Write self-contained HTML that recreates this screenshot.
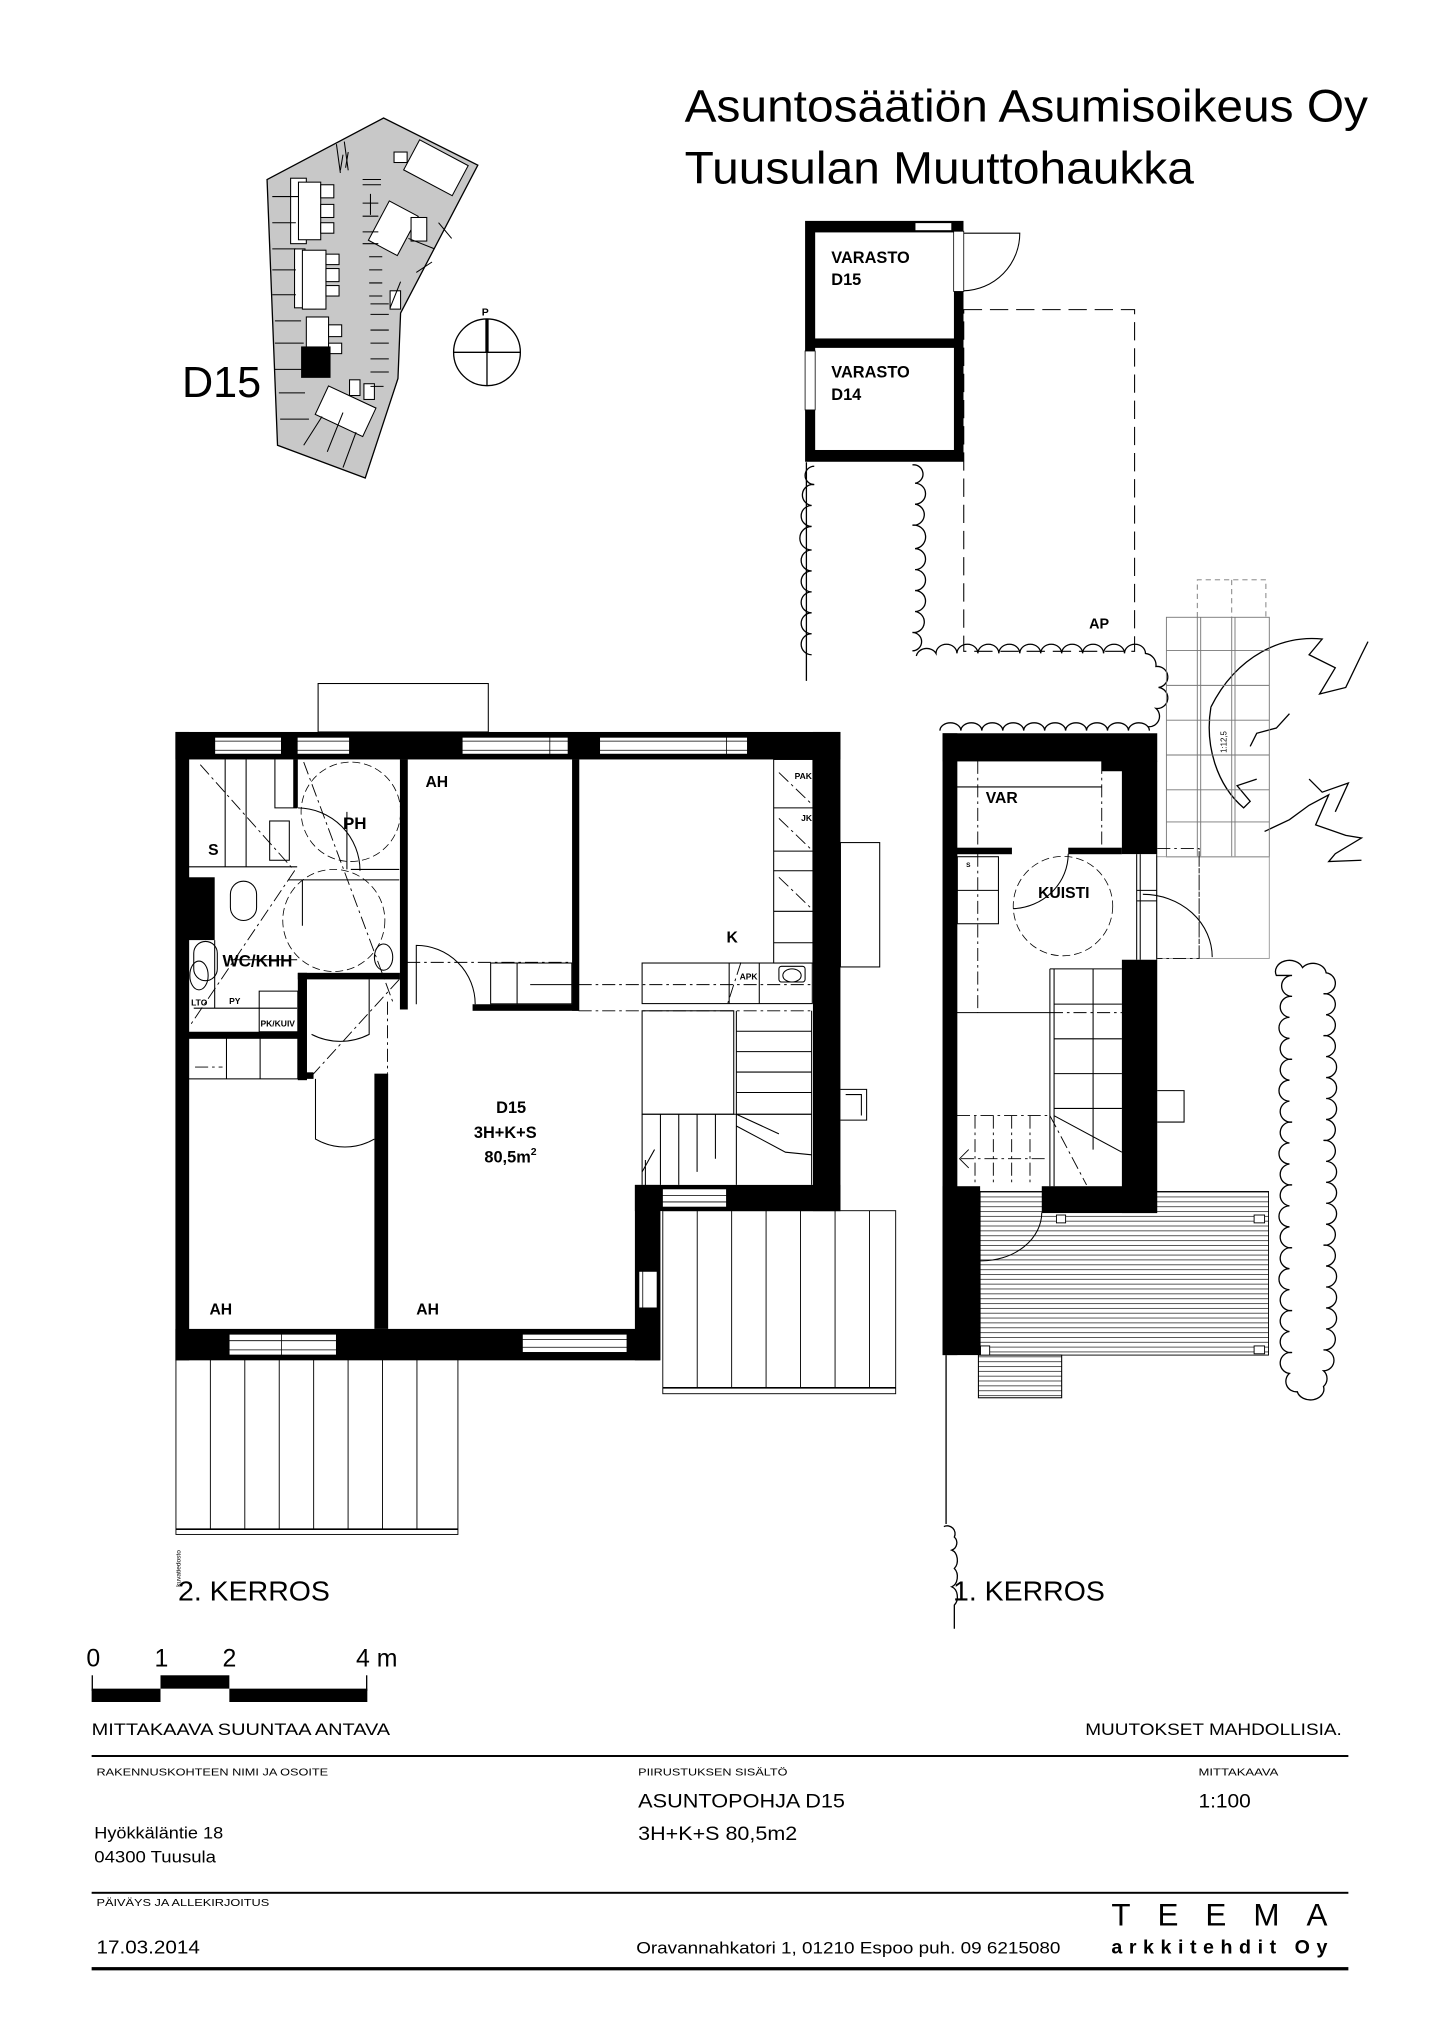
<!DOCTYPE html>
<html><head><meta charset="utf-8"><style>
html,body{margin:0;padding:0;background:#fff}
svg{display:block}
text{font-family:"Liberation Sans",Arial,sans-serif;fill:#000}
</style></head><body>
<svg width="1440" height="2036" viewBox="0 0 1100 1555" xmlns="http://www.w3.org/2000/svg">
<defs>
<pattern id="deckH" width="10" height="3.7" patternUnits="userSpaceOnUse"><rect width="10" height="3.7" fill="#fff"/><line x1="0" y1="0.3" x2="10" y2="0.3" stroke="#000" stroke-width="0.5"/></pattern>
</defs>
<rect width="1100" height="1555" fill="#fff"/>

<!-- Title -->
<text x="523" y="92.6" font-size="34.5" textLength="522" lengthAdjust="spacingAndGlyphs">Asuntosäätiön Asumisoikeus Oy</text>
<text x="523" y="140" font-size="34.5" textLength="389" lengthAdjust="spacingAndGlyphs">Tuusulan Muuttohaukka</text>

<!-- Site plan -->
<g stroke="#000" stroke-width="1">
<polygon points="204,137 293,90 365,126 306,239 304,289 279,365 212,340" fill="#c8c8c8"/>
<g fill="#fff" stroke-width="0.8">
<rect x="222" y="136" width="12" height="50"/>
<rect x="228" y="139" width="17" height="44"/><rect x="245" y="141" width="10" height="10"/><rect x="245" y="156" width="10" height="10"/><rect x="245" y="170" width="10" height="8"/>
<rect x="225" y="190" width="8" height="45"/>
<rect x="231" y="191" width="18" height="45"/><rect x="249" y="194" width="10" height="8"/><rect x="249" y="205" width="10" height="10"/><rect x="249" y="218" width="10" height="8"/>
<rect x="234" y="242" width="17" height="24"/><rect x="251" y="248" width="10" height="9"/><rect x="251" y="262" width="10" height="8"/>
<rect x="312" y="115" width="42" height="26" transform="rotate(28 333 128)"/>
<rect x="301" y="116" width="10" height="8"/>
<rect x="288" y="157" width="25" height="34" transform="rotate(28 300 174)"/>
<rect x="314" y="166" width="12" height="18"/>
<rect x="298" y="222" width="8" height="14"/>
<rect x="244" y="302" width="40" height="24" transform="rotate(25 264 314)"/>
<rect x="267" y="290" width="8" height="12"/><rect x="278" y="293" width="8" height="12"/>
</g>
<g stroke-width="0.8" fill="none">
<path d="M208,150h20M208,170h18M208,190h18M208,206h18M208,225h18M210,245h20M210,262h22M210,282h22M213,300h20M214,320h22"/>
<path d="M262,118L260,130M266,116L264,128"/>
<path d="M277,137h14M277,141h14M283,148v16M277,155h12M277,165h12M277,177h12M277,186h12M282,196h10M282,206h10M282,216h10M282,226h10"/>
<path d="M283,232h14M283,240h14M283,252h14M283,262h14M283,274h14M283,284h14M283,295h10"/>
<path d="M298,235l8,-20M312,182l20,8M335,170l10,12M330,200l-12,8"/>
<path d="M250,345L262,315M262,357L272,330M232,340L246,318"/>
<path d="M257,110l3,22M263,108l3,22"/>
</g>
<rect x="230.5" y="265" width="21.5" height="23" fill="#000"/>
<circle cx="372" cy="269" r="25.5" fill="#fff"/>
<line x1="346.5" y1="269" x2="397.5" y2="269"/>
<line x1="372" y1="269" x2="372" y2="294.5"/>
<line x1="372" y1="243.5" x2="372" y2="269" stroke-width="2.5"/>
</g>
<text x="368" y="241" font-size="8" font-weight="bold">P</text>
<text x="139" y="303" font-size="33">D15</text>

<!-- Storage -->
<g>
<rect x="615" y="168.6" width="121" height="184" fill="#000"/>
<rect x="622.7" y="177.4" width="106" height="81" fill="#fff"/>
<rect x="622.7" y="265.6" width="106" height="78" fill="#fff"/>
<rect x="728.5" y="176.5" width="7.7" height="46" fill="#fff" stroke="#000" stroke-width="0.6"/>
<rect x="615" y="268" width="7.7" height="45" fill="#fff" stroke="#000" stroke-width="0.6"/>
<rect x="699" y="170" width="28" height="6" fill="#fff" stroke="#000" stroke-width="0.6"/>
<path d="M736,178 H779 A44,44 0 0 1 736,222" fill="none" stroke="#000" stroke-width="0.8"/>
</g>
<g font-size="12.5" font-weight="bold">
<text x="635" y="200.7">VARASTO</text><text x="635" y="217.7">D15</text>
<text x="635" y="288.4">VARASTO</text><text x="635" y="305.4">D14</text>
</g>
<rect x="736.2" y="236.4" width="130.5" height="261" fill="none" stroke="#000" stroke-width="0.8" stroke-dasharray="14,6"/>
<text x="832" y="480" font-size="11" font-weight="bold">AP</text>

<!-- Hedges -->
<g fill="none" stroke="#000" stroke-width="1">
<path d="M616,353 V520"/>
<path d="M622,356 a6,6 0 0 0 0,14 a8,8 0 0 0 -2,16 a8,8 0 0 0 0,16 a9,9 0 0 0 0,18 a8,8 0 0 0 0,16 a8,8 0 0 0 0,16 a8,8 0 0 0 0,16 a8,8 0 0 0 0,16 a8,8 0 0 0 0,16"/>
<path d="M697,355 a6,6 0 0 1 2,14 a8,8 0 0 1 0,16 a8,8 0 0 1 -2,16 a9,9 0 0 1 2,18 a8,8 0 0 1 0,16 a8,8 0 0 1 0,16 a8,8 0 0 1 0,16 a8,8 0 0 1 -2,16 a7,7 0 0 1 0,14"/>
<path d="M700,501 a8,7 0 0 1 15,-2 a8,7 0 0 1 16,0 a8,7 0 0 1 16,0 a8,7 0 0 1 16,0 a8,7 0 0 1 16,0 a8,7 0 0 1 16,0 a8,7 0 0 1 16,0 a8,7 0 0 1 16,0 a8,7 0 0 1 16,0 a8,7 0 0 1 16,0 a8,7 0 0 1 16,0 a9,9 0 0 1 8,10 a8,8 0 0 1 2,16 a8,8 0 0 1 -2,16 a8,8 0 0 1 -6,14"/>
<path d="M718,558 a8,6 0 0 1 16,0 a8,6 0 0 1 16,0 a8,6 0 0 1 16,0 a8,6 0 0 1 16,0 a8,6 0 0 1 16,0 a8,6 0 0 1 16,0 a8,6 0 0 1 16,0 a8,6 0 0 1 16,0 a8,6 0 0 1 16,0 a8,6 0 0 1 16,0"/>
<path d="M975,745 a10,8 0 0 1 20,-6 a10,8 0 0 1 18,4 a8,8 0 0 1 -2,16 a8,8 0 0 1 2,16 a8,8 0 0 1 -2,16 a8,8 0 0 1 2,16 a8,8 0 0 1 0,16 a8,8 0 0 1 0,16 a8,8 0 0 1 0,16 a8,8 0 0 1 -2,16 a8,8 0 0 1 2,16 a8,8 0 0 1 0,16 a8,8 0 0 1 0,16 a8,8 0 0 1 0,16 a8,8 0 0 1 -2,16 a8,8 0 0 1 2,16 a8,8 0 0 1 0,16 a8,8 0 0 1 0,16 a8,8 0 0 1 0,16 a8,8 0 0 1 -2,16 a8,8 0 0 1 0,16 a8,8 0 0 1 0,12 a10,8 0 0 1 -20,4 a8,8 0 0 1 -6,-14 a8,8 0 0 1 2,-16 a8,8 0 0 1 -2,-16 a8,8 0 0 1 2,-16 a8,8 0 0 1 -2,-16 a8,8 0 0 1 0,-16 a8,8 0 0 1 2,-16 a8,8 0 0 1 -2,-16 a8,8 0 0 1 0,-16 a8,8 0 0 1 2,-16 a8,8 0 0 1 -2,-16 a8,8 0 0 1 0,-16 a8,8 0 0 1 2,-16 a8,8 0 0 1 -2,-16 a8,8 0 0 1 0,-16 a8,8 0 0 1 2,-16 a8,8 0 0 1 -2,-16 a8,8 0 0 1 0,-16 a8,8 0 0 1 2,-16 a8,8 0 0 1 0,-16 z"/>
<path d="M925,540 C945,500 980,485 1010,488 L1000,500 L1020,510 L1008,530 L1028,525 L1040,500 L1045,490"/>
<path d="M925,540 C920,570 930,600 950,617 L955,612 L945,600 L960,595"/>
<path d="M955,570 L960,560 L975,556 L985,545"/>
<path d="M966,635 L985,626 L1000,615 L1015,607 L1005,630 L1028,638 L1040,640 L1020,652 L1015,658 L1040,657"/>
<path d="M1000,595 L1010,605 L1030,598 L1020,620"/>
<path d="M722.7,1035 V1164"/>
<path d="M721,1166 a6,6 0 0 1 8,8 a6,6 0 0 1 -2,10 a6,8 0 0 1 2,14 a6,8 0 0 1 -2,14 a6,8 0 0 1 2,14 l0,18"/>
</g>

<!-- Ramp grid -->
<g fill="none" stroke="#777" stroke-width="0.7">
<rect x="891" y="471.4" width="78.6" height="183"/>
<path d="M891,496.8h78.6M891,523.4h78.6M891,550h78.6M891,576.6h78.6M891,603.2h78.6M891,627.7h78.6"/>
<path d="M914.6,471.4V654M917.2,471.4V654M940.9,471.4V654M943.4,471.4V654"/>
<path d="M914.6,471.4V442.8H967V471.4M940.9,442.8V471.4" stroke-dasharray="4,3"/>
<rect x="883.6" y="654.3" width="86" height="77.7" stroke="#999"/>
</g>
<text x="0" y="0" font-size="6" transform="translate(937,575) rotate(-90)">1:12,5</text>

<!-- ===== 2. KERROS ===== -->
<rect x="243" y="522" width="130" height="37" fill="#fff" stroke="#000" stroke-width="0.8"/>
<g fill="none" stroke="#000" stroke-width="0.7">
<rect x="134.4" y="1038" width="215.4" height="134"/>
<line x1="134.4" y1="1168" x2="349.8" y2="1168" stroke-width="1.2"/>
<path d="M160.7,1038V1168M187,1038V1168M213.3,1038V1168M239.6,1038V1168M265.9,1038V1168M292.2,1038V1168M318.5,1038V1168"/>
<rect x="506.3" y="924.7" width="177.9" height="139.8"/>
<line x1="506.3" y1="1060" x2="684.2" y2="1060" stroke-width="1.2"/>
<path d="M532.6,924.7V1060M558.9,924.7V1060M585.2,924.7V1060M611.5,924.7V1060M637.9,924.7V1060M664.2,924.7V1060"/>
</g>

<g fill="#000">
<rect x="134" y="559" width="508" height="21"/>
<rect x="134" y="559" width="10.5" height="480"/>
<rect x="621" y="559" width="21" height="366"/>
<rect x="485" y="905" width="157" height="20"/>
<rect x="485" y="905" width="19.5" height="134"/>
<rect x="134" y="1015" width="370" height="24"/>
<rect x="305.5" y="580" width="6" height="191"/>
<rect x="437" y="580" width="5.5" height="192"/>
<rect x="361" y="767" width="81" height="5"/>
<rect x="144" y="670" width="20" height="48"/>
<rect x="227.5" y="743" width="78" height="5"/>
<rect x="227.5" y="743" width="7" height="82"/>
<rect x="144" y="788" width="84" height="5"/>
<rect x="286" y="820" width="10.5" height="195"/>
<rect x="224" y="580" width="3.5" height="37"/>
<rect x="227.5" y="819" width="12" height="5"/>
</g>
<g fill="#fff" stroke="#000" stroke-width="0.7">
<rect x="164" y="563" width="51" height="13"/><rect x="227" y="563" width="40" height="13"/>
<rect x="353" y="563" width="81" height="13"/><rect x="458" y="563" width="113" height="13"/>
<rect x="175" y="1019" width="82" height="16"/><rect x="399" y="1019" width="80" height="14"/>
<rect x="488" y="971" width="14" height="28"/><rect x="506" y="908" width="49" height="14"/>
</g>
<g stroke="#000" stroke-width="0.6">
<path d="M164,566h51M164,573h51M227,566h40M227,573h40M353,566h81M353,573h81M458,566h113M458,573h113M420,563v13M555,563v13"/>
<path d="M175,1024h82M175,1031h82M399,1023h80M399,1029h80M215,1019v16M491,971v28M506,913h49M506,918h49"/>
</g>
<g fill="none" stroke="#000" stroke-width="0.8">
<rect x="642" y="643.5" width="30" height="95"/>
<path d="M642,832H662V855.5H642M646,836H658V852"/>
</g>
<g fill="none" stroke="#000" stroke-width="0.8">
<path d="M144,662H227M172,580V662M188,580V662M210,580V617H227"/>
<rect x="206" y="627" width="15" height="30"/>
<path d="M176,733 H227M148,770H227M164,718V770"/>
<rect x="148" y="719" width="18" height="30" rx="9"/>
<rect x="176" y="673" width="20" height="30" rx="10"/>
<path d="M236,672H305M265,620V664M268,664H305M220,672H236M231,672V707"/>
<rect x="144" y="793" width="83.5" height="31"/>
<path d="M173,793V824M198.7,793V824M198,757H227.5V788H198Z"/>
<rect x="591" y="580" width="30" height="155.5"/>
<path d="M591,617H621M591,650H621M591,665H621M591,696H621M591,720H621"/>
<rect x="490.5" y="735.5" width="130" height="31"/>
<path d="M557,735.5V766.7M580,735.5V766.7"/>
<rect x="374.8" y="735.5" width="62" height="31.2"/>
<path d="M395,735.5V766.7M405,752H437"/>
<rect x="490.5" y="772" width="70" height="79"/>
<path d="M562.5,772V905M620,772V905M562.5,787.6H620M562.5,803.2H620M562.5,818.8H620M562.5,834.4H620M562.5,851H620"/>
<path d="M490.5,851H620M490.5,851V905M504.5,851V905M518.5,851V905M532.5,851V895M546.5,851V885M562.5,860L600,880L620,882M562.5,851L595,866"/>
<path d="M490.5,895L500,878M493,906V886"/>
<ellipse cx="152" cy="745" rx="7" ry="11"/>
<ellipse cx="293" cy="731" rx="7" ry="10"/>
<rect x="595" y="738" width="20" height="12" rx="2"/>
<ellipse cx="605" cy="745" rx="7" ry="5"/>
</g>
<g fill="none" stroke="#000" stroke-width="0.6" stroke-dasharray="6,3">
<circle cx="268" cy="620" r="38"/>
<circle cx="255" cy="703" r="39"/>
</g>
<g fill="none" stroke="#000" stroke-width="0.7" stroke-dasharray="10,3,2,3">
<path d="M153,584L225,665M225,665L146,782"/>
<path d="M232,582L300,765"/>
<path d="M311,735H437M442,752H620M442,772H620"/>
<path d="M305,748L236,824"/>
<path d="M296,765V820"/>
<path d="M595,590L621,615M595,625L621,650M595,670L621,695M566,735L556,766"/>
<path d="M149,815H170"/>
</g>
<g fill="none" stroke="#000" stroke-width="0.8">
<path d="M227.5,617 A48,48 0 0 1 275,665"/>
<path d="M318,767 V722 A45,45 0 0 1 363,767"/>
<path d="M282,748 V790 A48,48 0 0 1 238,790"/>
<path d="M241,824 V870 A45,45 0 0 0 286,870"/>
</g>
<g font-size="12" font-weight="bold">
<text x="325" y="601">AH</text>
<text x="262" y="633" font-size="13">PH</text>
<text x="159" y="653">S</text>
<text x="170" y="738" font-size="13">WC/KHH</text>
<text x="555" y="720">K</text>
<text x="379" y="850" font-size="12.5">D15</text>
<text x="362" y="869" font-size="12.5">3H+K+S</text>
<text x="370" y="888" font-size="12.5">80,5m<tspan font-size="8" dy="-6">2</tspan></text>
<text x="160" y="1004">AH</text>
<text x="318" y="1004">AH</text>
</g>
<g font-size="6.5" font-weight="bold">
<text x="607" y="595">PAK</text><text x="612" y="627">JK</text><text x="565" y="748">APK</text>
<text x="146" y="768">LTO</text><text x="175" y="767">PY</text><text x="199" y="784">PK/KUIV</text>
</g>
<text font-size="5" transform="translate(138,1212) rotate(-90)">kuvatiedosto</text>
<text x="136" y="1222.6" font-size="21" textLength="116" lengthAdjust="spacingAndGlyphs">2. KERROS</text>

<!-- ===== 1. KERROS ===== -->
<rect x="748.7" y="910" width="220.3" height="125" fill="url(#deckH)" stroke="#000" stroke-width="0.7"/>
<rect x="747.4" y="1035" width="63.6" height="32.6" fill="url(#deckH)" stroke="#000" stroke-width="0.8"/>
<g fill="#fff" stroke="#000" stroke-width="0.7">
<rect x="807" y="928" width="7" height="6"/><rect x="958" y="928" width="8" height="6"/>
<rect x="749" y="1028" width="7" height="7"/><rect x="958" y="1028" width="8" height="6"/>
</g>
<g fill="#000">
<rect x="720" y="560" width="164" height="21.5"/>
<rect x="720" y="560" width="11.3" height="475"/>
<rect x="720" y="906" width="28.7" height="129"/>
<rect x="857" y="581" width="27" height="71.3"/>
<rect x="841.6" y="581" width="42" height="8"/>
<rect x="857" y="733" width="27" height="193.5"/>
<rect x="795.8" y="906" width="88" height="20.5"/>
<rect x="731" y="647.4" width="42" height="5"/>
<rect x="816" y="647.4" width="41" height="5"/>
</g>
<g fill="none" stroke="#000" stroke-width="0.8">
<path d="M731,601H841.6"/>
<rect x="731.3" y="654.3" width="31.4" height="51.2"/>
<path d="M731.3,680H762.7"/>
<path d="M868.3,652.3V733M871,652.3V733M883.6,652.3V733M868.3,680H884M868.3,688H884"/>
<path d="M873,683 A53,48 0 0 1 926,731"/>
<path d="M774,694 A44,42 0 0 0 816,652"/>
<path d="M731,773.4H802"/>
<path d="M802,740V906M805.2,740V906M802,740H857M805,766.9H857M805,793.4H857M805,820H857M805,846.6H857M805,852L857,880M835,740V878"/>
<path d="M884,833H904.5V857H884"/>
</g>
<g fill="none" stroke="#000" stroke-width="0.6" stroke-dasharray="6,3">
<ellipse cx="812" cy="692" rx="38" ry="38"/>
</g>
<g fill="none" stroke="#000" stroke-width="0.7" stroke-dasharray="10,3,2,3">
<path d="M746.9,581V647M841.6,581V647M746.9,652V773.4M802,773.4H857"/>
<path d="M731,852H802M744.8,852V906M758.8,852V906M772.8,852V906M786.8,852V906M734,885H800M802,852L830,905"/>
<path d="M884,648H916V732H884M916,650V732"/>
</g>
<path d="M740,878L733,885L740,892" fill="none" stroke="#000" stroke-width="0.7"/>
<path d="M795.8,926 A46,37 0 0 1 749,963" fill="none" stroke="#000" stroke-width="0.8"/>
<text x="753" y="613.4" font-size="12" font-weight="bold">VAR</text>
<text x="793" y="686" font-size="12" font-weight="bold">KUISTI</text>
<text x="738" y="662" font-size="5" font-weight="bold">S</text>
<text x="728" y="1222.6" font-size="21" textLength="116" lengthAdjust="spacingAndGlyphs">1. KERROS</text>

<!-- Scale bar -->
<g font-size="19">
<text x="66" y="1273">0</text><text x="118" y="1273">1</text><text x="170" y="1273">2</text><text x="272" y="1273">4 m</text>
</g>
<g fill="#000">
<rect x="70" y="1289.8" width="52.6" height="10.2"/>
<rect x="122.6" y="1279.6" width="52.6" height="10.2"/>
<rect x="175.2" y="1289.8" width="105.4" height="10.2"/>
<rect x="70" y="1279.6" width="1" height="12"/><rect x="279.6" y="1279.6" width="1" height="12"/>
</g>

<!-- Title block -->
<g font-size="13">
<text x="70" y="1325.4" textLength="228" lengthAdjust="spacingAndGlyphs">MITTAKAAVA SUUNTAA ANTAVA</text>
<text x="829" y="1325.4" textLength="196" lengthAdjust="spacingAndGlyphs">MUUTOKSET MAHDOLLISIA.</text>
</g>
<rect x="70" y="1340.5" width="960" height="1.5" fill="#000"/>
<g font-size="7.5">
<text x="73.7" y="1356" textLength="177" lengthAdjust="spacingAndGlyphs">RAKENNUSKOHTEEN NIMI JA OSOITE</text>
<text x="487.5" y="1356" textLength="114" lengthAdjust="spacingAndGlyphs">PIIRUSTUKSEN SISÄLTÖ</text>
<text x="915.5" y="1356" textLength="61" lengthAdjust="spacingAndGlyphs">MITTAKAAVA</text>
<text x="73.7" y="1455.8" textLength="132" lengthAdjust="spacingAndGlyphs">PÄIVÄYS JA ALLEKIRJOITUS</text>
</g>
<g font-size="15">
<text x="487.5" y="1380.7" textLength="158" lengthAdjust="spacingAndGlyphs">ASUNTOPOHJA D15</text>
<text x="915.5" y="1380.7" textLength="40" lengthAdjust="spacingAndGlyphs">1:100</text>
<text x="487.5" y="1405.6" textLength="121.5" lengthAdjust="spacingAndGlyphs">3H+K+S 80,5m2</text>
</g>
<g font-size="13">
<text x="72" y="1404.4" textLength="98.5" lengthAdjust="spacingAndGlyphs">Hyökkäläntie 18</text>
<text x="72" y="1422.7" textLength="93" lengthAdjust="spacingAndGlyphs">04300 Tuusula</text>
<text x="73.7" y="1492.2" font-size="14" textLength="79" lengthAdjust="spacingAndGlyphs">17.03.2014</text>
<text x="486" y="1492.2" textLength="324" lengthAdjust="spacingAndGlyphs">Oravannahkatori 1, 01210 Espoo   puh. 09 6215080</text>
</g>
<rect x="70" y="1445" width="960" height="1.5" fill="#000"/>
<text x="849" y="1470.6" font-size="24" textLength="165" lengthAdjust="spacing">TEEMA</text>
<text x="849" y="1492.2" font-size="15" font-weight="bold" textLength="165" lengthAdjust="spacing">arkkitehdit Oy</text>
<rect x="70" y="1502.5" width="960" height="2.5" fill="#000"/>
</svg>
</body></html>
